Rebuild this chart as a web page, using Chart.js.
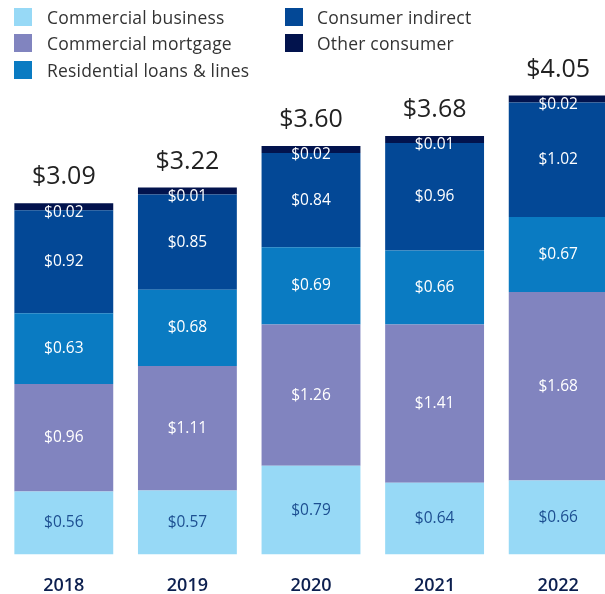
<!DOCTYPE html>
<html lang="en">
<head>
<meta charset="UTF-8">
<title>loans</title>
<script src="https://cdn.jsdelivr.net/npm/chart.js@4.4.1/dist/chart.umd.min.js"></script>
<style>
    body { margin: 0; overflow: hidden; background: #fff; font-family: "Open Sans", sans-serif; }
    #wrap { position: relative; width: 620px; height: 610px; }
    #legend { position: absolute; left: 0; top: 0; width: 605px; height: 90px; }
    .item { position: absolute; font-size: 17.5px; letter-spacing: 0.2px; color: #333; line-height: 18px; white-space: nowrap; }
    .item span { position: absolute; left: 0; top: 0; width: 18px; height: 18px; }
    .item b { position: absolute; font-weight: 400; top: 0; }
</style>
</head>
<body>
<div id="wrap">
    <canvas id="myChart"></canvas>
    <div id="legend"></div>
</div>
<script>
    // données
    var years = ['2018', '2019', '2020', '2021', '2022'];
    var seriesNames = ['Commercial business', 'Commercial mortgage', 'Residential loans & lines', 'Consumer indirect', 'Other consumer'];
    var commercialBusiness = [0.56, 0.57, 0.79, 0.64, 0.66];
    var commercialMortgage = [0.96, 1.11, 1.26, 1.41, 1.68];
    var residential = [0.63, 0.68, 0.69, 0.66, 0.67];
    var consumerIndirect = [0.92, 0.85, 0.84, 0.96, 1.02];
    var otherConsumer = [0.02, 0.01, 0.02, 0.01, 0.02];

    var colors = ['#97d9f6', '#8184bf', '#0a7bc2', '#034896', '#02134d'];
    var labelColors = ['#1d4f91', '#fff', '#fff', '#fff', '#fff'];
    var allData = [commercialBusiness, commercialMortgage, residential, consumerIndirect, otherConsumer];

    // légende en html (deux colonnes)
    var pos = [[14, 8], [14, 34], [14, 61], [285, 8], [285, 34]];
    var lg = document.getElementById('legend');
    seriesNames.forEach((n, i) => {
        var d = document.createElement('div');
        d.className = 'item';
        d.style.left = pos[i][0] + 'px';
        d.style.top = pos[i][1] + 'px';
        d.innerHTML = '<span style="background:' + colors[i] + '"></span><b style="left:' + (i < 3 ? 33 : 32) + 'px">' + n.replace('&', '&amp;') + '</b>';
        lg.appendChild(d);
    });

    const labelsPlugin = {
        id: 'labelsPlugin',
        afterDatasetsDraw(chart) {
            const c = chart.ctx;
            c.save();
            c.textAlign = 'center';
            c.textBaseline = 'middle';
            c.font = '15.5px "Open Sans"';
            chart.data.datasets.forEach((ds, i) => {
                const meta = chart.getDatasetMeta(i);
                meta.data.forEach((bar, j) => {
                    c.fillStyle = labelColors[i];
                    var y = (bar.y + bar.base) / 2;
                    if (i === 4) y = bar.y + 9;
                    c.fillText('$' + ds.data[j].toFixed(2), bar.x, y);
                });
            });
            // totaux
            const top = chart.getDatasetMeta(4);
            c.fillStyle = '#222';
            c.font = '25px "Open Sans"';
            c.textBaseline = 'alphabetic';
            top.data.forEach((bar, j) => {
                var tot = 0;
                allData.forEach(a => tot += a[j]);
                c.fillText('$' + tot.toFixed(2), bar.x, bar.y - 19);
            });
            c.restore();
        }
    };

    const ctx = document.getElementById('myChart');
    new Chart(ctx, {
        type: 'bar',
        data: {
            labels: years,
            datasets: seriesNames.map((n, i) => ({
                label: n,
                data: allData[i],
                backgroundColor: colors[i],
                borderWidth: 0,
                categoryPercentage: 0.8,
                barPercentage: 1,
                minBarLength: i === 4 ? 7 : 0
            }))
        },
        options: {
            responsive: true,
            maintainAspectRatio: false,
            animation: false,
            layout: { padding: { top: 60, left: 2, right: 0, bottom: 0 } },
            scales: {
                x: {
                    stacked: true,
                    grid: { display: false },
                    border: { display: false },
                    ticks: { color: '#0c1f4f', font: { size: 18, family: 'Open Sans', weight: '600' }, padding: 13 }
                },
                y: {
                    stacked: true,
                    display: false,
                    min: 0,
                    max: 4.41
                }
            },
            plugins: {
                legend: { display: false },
                tooltip: { enabled: false }
            }
        },
        plugins: [labelsPlugin]
    });
</script>
</body>
</html>
